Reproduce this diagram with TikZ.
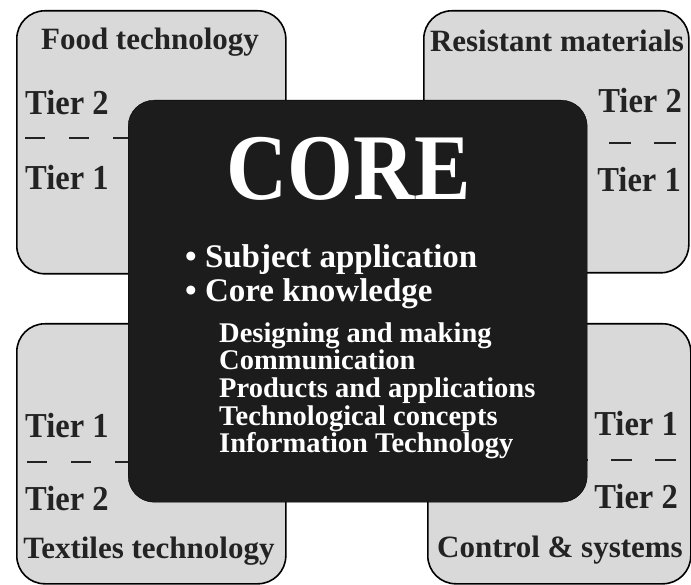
\documentclass[tikz,border=0pt]{standalone}
\usepackage{fontspec}
\setmainfont{Liberation Serif}
\newfontfamily\tierfont[FakeStretch=0.93]{Liberation Serif}
\newfontfamily\corefont[FakeStretch=0.9]{Liberation Serif}
\definecolor{boxgray}{RGB}{217,217,217}
\definecolor{coreblack}{RGB}{28,28,28}
\definecolor{inkgray}{RGB}{35,35,35}
\begin{document}
\begin{tikzpicture}[x=1pt,y=-1pt,
  graybox/.style={draw=black, line width=1.6pt, fill=boxgray, rounded corners=28pt, inner sep=0pt, anchor=north west},
  corebox/.style={fill=coreblack, draw=black, rounded corners=26pt, inner sep=0pt, anchor=north west},
  title/.style={font=\bfseries\fontsize{31}{31}\selectfont, text=inkgray, inner sep=0pt, anchor=base},
  tierL/.style={font=\tierfont\bfseries\fontsize{35}{35}\selectfont, text=inkgray, inner sep=0pt, anchor=base west},
  tierR/.style={tierL, anchor=base east},
  divider/.style={line width=2pt, draw=inkgray, dash pattern=on 20pt off 24pt},
  bigcore/.style={font=\corefont\bfseries\fontsize{94}{94}\selectfont, text=white, inner sep=0pt, anchor=base},
  bulletline/.style={font=\bfseries\fontsize{33}{33}\selectfont, text=white, inner sep=0pt, anchor=base west},
  subline/.style={font=\bfseries\fontsize{28.5}{28.5}\selectfont, text=white, inner sep=0pt, anchor=base west}
]
\useasboundingbox (0,0) rectangle (691,585);
\fill[white] (0,0) rectangle (691,585);
% outer subject boxes
\node[graybox, minimum width=269pt, minimum height=263pt] (food) at (16,10) {};
\node[graybox, minimum width=265pt, minimum height=262pt] (resist) at (423,10) {};
\node[graybox, minimum width=269pt, minimum height=260pt] (textiles) at (16,323) {};
\node[graybox, minimum width=263pt, minimum height=260pt] (control) at (427,323) {};
% tier dividers
\draw[divider] (25,138) -- (130,138);
\draw[divider, dash pattern=on 22pt off 23pt] (676,143) -- (580,143);
\draw[divider] (27,462) -- (130,462);
\draw[divider, dash pattern=on 21pt off 23pt] (676,460) -- (580,460);
% labels in subject boxes
\node[title] (foodt) at (150,50) {Food technology};
\node[tierL] (food2) at (25,115) {Tier 2};
\node[tierL] (food1) at (25,190) {Tier 1};
\node[title] (resistt) at (557,52) {Resistant materials};
\node[tierR] (resist2) at (682,113) {Tier 2};
\node[tierR] (resist1) at (681,192) {Tier 1};
\node[tierL] (textiles1) at (25,437) {Tier 1};
\node[tierL] (textiles2) at (25,510) {Tier 2};
\node[title] (textilest) at (149,558) {Textiles technology};
\node[tierR] (control1) at (678,435) {Tier 1};
\node[tierR] (control2) at (678,508) {Tier 2};
\node[title] (controlt) at (560,557) {Control \& systems};
% core box
\node[corebox, minimum width=459pt, minimum height=402pt] (core) at (128,100) {};
\node[bigcore] (coret) at (348.5,200) {CORE};
\node[bulletline] (subj) at (185,268) {\textbullet\ Subject application};
\node[bulletline] (know) at (185,302) {\textbullet\ Core knowledge};
\node[subline] (s1) at (219,343) {Designing and making};
\node[subline] (s2) at (219,370) {Communication};
\node[subline] (s3) at (219,397.5) {Products and applications};
\node[subline] (s4) at (219,425) {Technological concepts};
\node[subline] (s5) at (219,452) {Information Technology};
\end{tikzpicture}
\end{document}
